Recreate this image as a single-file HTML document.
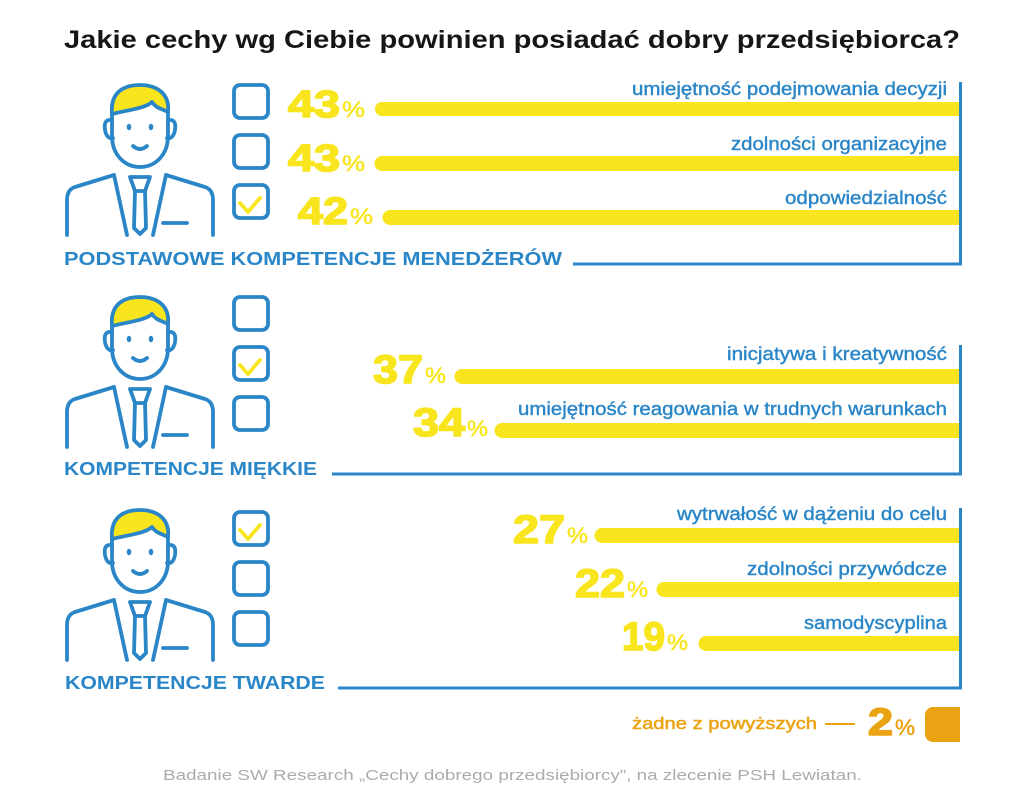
<!DOCTYPE html>
<html><head><meta charset="utf-8"><style>
html,body{margin:0;padding:0;background:#fff;}
svg{display:block;}
text{font-family:"Liberation Sans","DejaVu Sans",sans-serif;}
</style></head><body>
<svg width="1024" height="802" viewBox="0 0 1024 802" xmlns="http://www.w3.org/2000/svg">
<defs>
<g id="fig">
  <path d="M52,36 C50,14 64,7 80,7 C96,7 110,15 108,34 C100,30 96,30 92,24 C86,30 68,32 52,36 Z" fill="#f8e51e"/>
  <g fill="none" stroke="#2a86c7" stroke-width="3.8" stroke-linecap="round" stroke-linejoin="round">
    <path d="M52,36 C50,14 64,7 80,7 C96,7 110,15 108,34 L108,58 C108,76 96,89 80,89 C64,89 52,76 52,58 Z"/>
    <path d="M52,36 C68,32 86,30 92,24 C96,30 100,30 108,34"/>
    <path d="M52,42 C45,41 44,46 45,52 C46,58 49,61 53,60"/>
    <path d="M108,42 C115,41 116,46 115,52 C114,58 111,61 107,60"/>
    <path d="M73,68 Q80,74 87,68"/>
    <path d="M54,97 L15,109 C9,111 7,116 7,122 L7,157"/>
    <path d="M106,97 L145,109 C151,111 153,116 153,122 L153,157"/>
    <path d="M54,97 L67,157"/>
    <path d="M106,97 L93,157"/>
    <path d="M70,99 L90,99 L85,113 L75,113 Z"/>
    <path d="M75,113 L74,150 L80,156 L86,150 L85,113"/>
    <path d="M103,145 L127,145"/>
  </g>
  <ellipse cx="69" cy="49" rx="2.3" ry="3.2" fill="#2a86c7"/>
  <ellipse cx="91" cy="49" rx="2.3" ry="3.2" fill="#2a86c7"/>
</g>
<g id="box"><rect x="234" y="2" width="34" height="33" rx="6" ry="6" fill="none" stroke="#2a86c7" stroke-width="3.8"/></g>
<g id="chk"><path d="M240,20 L248,29 L260,15" fill="none" stroke="#f8e51e" stroke-width="3.8" stroke-linecap="round" stroke-linejoin="round"/></g>
</defs>

<!-- Title -->
<text x="64" y="48" font-size="25" font-weight="bold" fill="#161616" textLength="896" lengthAdjust="spacingAndGlyphs">Jakie cechy wg Ciebie powinien posiadać dobry przedsiębiorca?</text>

<!-- figures -->
<use href="#fig" transform="translate(60,78)"/>
<use href="#fig" transform="translate(60,290)"/>
<use href="#fig" transform="translate(60,503)"/>

<!-- boxes section 1 -->
<use href="#box" transform="translate(0,83)"/>
<use href="#box" transform="translate(0,133)"/>
<use href="#box" transform="translate(0,183)"/>
<use href="#chk" transform="translate(0,183)"/>
<!-- section 2 -->
<use href="#box" transform="translate(0,295)"/>
<use href="#box" transform="translate(0,345)"/>
<use href="#box" transform="translate(0,395)"/>
<use href="#chk" transform="translate(0,345)"/>
<!-- section 3 -->
<use href="#box" transform="translate(0,510)"/>
<use href="#box" transform="translate(0,560)"/>
<use href="#box" transform="translate(0,610)"/>
<use href="#chk" transform="translate(0,510)"/>

<!-- axis lines -->
<g fill="none" stroke="#2a86c7" stroke-width="3">
  <path d="M960.5,82 L960.5,264 L573,264"/>
  <path d="M960.5,345 L960.5,474 L332,474"/>
  <path d="M960.5,508 L960.5,688 L338,688"/>
</g>

<!-- bars -->
<g fill="#f8e51e">
  <path d="M382,102 H959 V116 H382 A7,7 0 0 1 382,102 Z"/>
  <path d="M382,156 H959 V171 H382 A7.5,7.5 0 0 1 382,156 Z"/>
  <path d="M390,210 H959 V225 H390 A7.5,7.5 0 0 1 390,210 Z"/>
  <path d="M462,369 H959 V384 H462 A7.5,7.5 0 0 1 462,369 Z"/>
  <path d="M502,423 H959 V438 H502 A7.5,7.5 0 0 1 502,423 Z"/>
  <path d="M602,528 H959 V543 H602 A7.5,7.5 0 0 1 602,528 Z"/>
  <path d="M664,582 H959 V597 H664 A7.5,7.5 0 0 1 664,582 Z"/>
  <path d="M706,636 H959 V651 H706 A7.5,7.5 0 0 1 706,636 Z"/>
</g>

<!-- percentages -->
<g fill="#f8e51e" font-weight="bold" stroke="#f8e51e" stroke-width="1.6" stroke-linejoin="round">
  <text x="288" y="117" font-size="38" textLength="52" lengthAdjust="spacingAndGlyphs">43</text>
  <text x="288" y="171" font-size="38" textLength="52" lengthAdjust="spacingAndGlyphs">43</text>
  <text x="298" y="224" font-size="38" textLength="50" lengthAdjust="spacingAndGlyphs">42</text>
  <text x="373" y="383" font-size="40" textLength="50" lengthAdjust="spacingAndGlyphs">37</text>
  <text x="413" y="436" font-size="40" textLength="52" lengthAdjust="spacingAndGlyphs">34</text>
  <text x="513" y="543" font-size="40" textLength="52" lengthAdjust="spacingAndGlyphs">27</text>
  <text x="575" y="597" font-size="40" textLength="50" lengthAdjust="spacingAndGlyphs">22</text>
  <text x="622" y="650" font-size="40" textLength="43" lengthAdjust="spacingAndGlyphs">19</text>
</g>
<g fill="#f8e51e" font-size="22" stroke="#f8e51e" stroke-width="0.5">
  <text x="342" y="117" textLength="23" lengthAdjust="spacingAndGlyphs">%</text>
  <text x="342" y="171" textLength="23" lengthAdjust="spacingAndGlyphs">%</text>
  <text x="350" y="224" textLength="23" lengthAdjust="spacingAndGlyphs">%</text>
  <text x="425" y="383" textLength="21" lengthAdjust="spacingAndGlyphs">%</text>
  <text x="467" y="436" textLength="21" lengthAdjust="spacingAndGlyphs">%</text>
  <text x="567" y="543" textLength="21" lengthAdjust="spacingAndGlyphs">%</text>
  <text x="627" y="597" textLength="21" lengthAdjust="spacingAndGlyphs">%</text>
  <text x="667" y="650" textLength="21" lengthAdjust="spacingAndGlyphs">%</text>
</g>

<!-- labels -->
<g fill="#2a86c7" font-size="18" stroke="#2a86c7" stroke-width="0.4">
  <text x="632" y="95" textLength="315" lengthAdjust="spacingAndGlyphs">umiejętność podejmowania decyzji</text>
  <text x="731" y="150" textLength="216" lengthAdjust="spacingAndGlyphs">zdolności organizacyjne</text>
  <text x="785" y="204" textLength="162" lengthAdjust="spacingAndGlyphs">odpowiedzialność</text>
  <text x="727" y="360" textLength="220" lengthAdjust="spacingAndGlyphs">inicjatywa i kreatywność</text>
  <text x="518" y="415" textLength="429" lengthAdjust="spacingAndGlyphs">umiejętność reagowania w trudnych warunkach</text>
  <text x="677" y="520" textLength="270" lengthAdjust="spacingAndGlyphs">wytrwałość w dążeniu do celu</text>
  <text x="747" y="575" textLength="200" lengthAdjust="spacingAndGlyphs">zdolności przywódcze</text>
  <text x="804" y="629" textLength="143" lengthAdjust="spacingAndGlyphs">samodyscyplina</text>
</g>

<!-- section headers -->
<g fill="#2a86c7" font-size="18" font-weight="bold">
  <text x="64" y="265" textLength="498" lengthAdjust="spacingAndGlyphs">PODSTAWOWE KOMPETENCJE MENEDŻERÓW</text>
  <text x="64" y="475" textLength="253" lengthAdjust="spacingAndGlyphs">KOMPETENCJE MIĘKKIE</text>
  <text x="65" y="689" textLength="260" lengthAdjust="spacingAndGlyphs">KOMPETENCJE TWARDE</text>
</g>

<!-- none of the above -->
<text x="632" y="729" font-size="17" fill="#eaa312" stroke="#eaa312" stroke-width="0.5" textLength="185" lengthAdjust="spacingAndGlyphs">żadne z powyższych</text>
<line x1="825" y1="724" x2="855" y2="724" stroke="#eaa312" stroke-width="2"/>
<text x="868" y="735" font-size="38" font-weight="bold" fill="#eaa312" stroke="#eaa312" stroke-width="1.6" stroke-linejoin="round" textLength="25" lengthAdjust="spacingAndGlyphs">2</text>
<text x="895" y="735" font-size="22" fill="#eaa312" stroke="#eaa312" stroke-width="0.5" textLength="20" lengthAdjust="spacingAndGlyphs">%</text>
<path d="M933,707 H960 V742 H933 A8,8 0 0 1 925,734 V715 A8,8 0 0 1 933,707 Z" fill="#eaa312"/>

<!-- source -->
<text x="163" y="780" font-size="15" fill="#ababab" textLength="699" lengthAdjust="spacingAndGlyphs">Badanie SW Research „Cechy dobrego przedsiębiorcy”, na zlecenie PSH Lewiatan.</text>
</svg>
</body></html>
